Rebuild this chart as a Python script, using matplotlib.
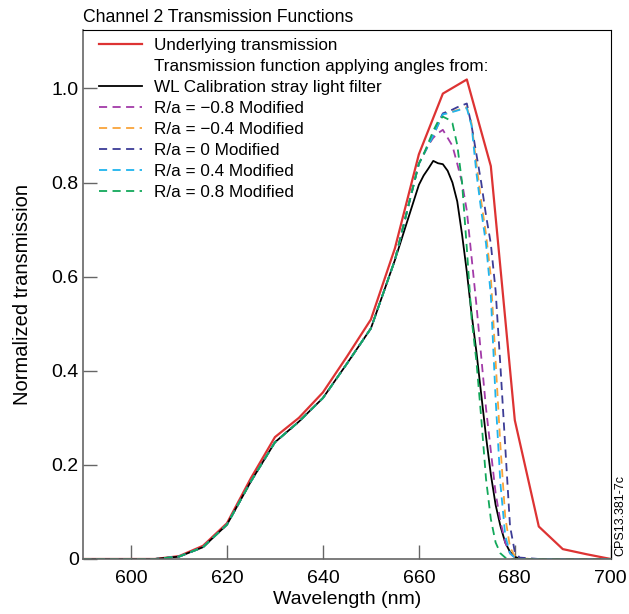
import matplotlib.pyplot as plt

plt.rcParams['font.family'] = ['Liberation Sans', 'DejaVu Sans']

# underlying transmission, 5 nm steps
wl_red = [590, 595, 600, 605, 610, 615, 620, 625, 630, 635, 640, 645, 650, 655,
          660, 665, 670, 675, 680, 685, 690, 695, 700]
t_red = [0, 0, 0, 0, 0.006, 0.028, 0.076, 0.172, 0.259, 0.300, 0.354, 0.430, 0.509, 0.660,
         0.860, 0.989, 1.019, 0.835, 0.295, 0.069, 0.021, 0.010, 0]

# shared rising part of the filtered curves
wl_rise = [590, 600, 605, 610, 615, 620, 625, 630, 635, 640, 645, 650, 655]
t_rise = [0, 0, 0, 0.005, 0.025, 0.073, 0.165, 0.248, 0.292, 0.342, 0.415, 0.490, 0.635]

wl_top = [660, 661, 662, 663, 664, 665, 666, 667, 668, 669, 670, 671, 672, 673, 674,
          675, 676, 677, 678, 679, 680, 681, 685, 690, 700]

t_black = [0.795, 0.815, 0.830, 0.846, 0.841, 0.839, 0.825, 0.800, 0.760, 0.690, 0.610,
           0.520, 0.440, 0.350, 0.260, 0.180, 0.115, 0.070, 0.035, 0.015, 0.005, 0, 0, 0, 0]
t_m08 = [0.840, 0.860, 0.880, 0.895, 0.905, 0.912, 0.895, 0.878, 0.840, 0.800, 0.740,
         0.640, 0.540, 0.430, 0.320, 0.230, 0.140, 0.080, 0.035, 0.012, 0.003, 0, 0, 0, 0]
t_m04 = [0.840, 0.860, 0.880, 0.900, 0.922, 0.945, 0.948, 0.951, 0.954, 0.957, 0.960,
         0.925, 0.840, 0.760, 0.690, 0.600, 0.420, 0.240, 0.090, 0.025, 0.006, 0.001, 0, 0, 0]
t_0 = [0.840, 0.860, 0.880, 0.900, 0.925, 0.947, 0.951, 0.955, 0.960, 0.964, 0.968,
       0.920, 0.860, 0.800, 0.730, 0.670, 0.570, 0.410, 0.240, 0.070, 0.015, 0.003, 0, 0, 0]
t_p04 = [0.840, 0.860, 0.880, 0.900, 0.922, 0.945, 0.947, 0.950, 0.953, 0.956, 0.958,
         0.920, 0.820, 0.740, 0.670, 0.560, 0.340, 0.160, 0.050, 0.012, 0.003, 0, 0, 0, 0]
t_p08 = [0.840, 0.860, 0.885, 0.910, 0.930, 0.940, 0.935, 0.926, 0.880, 0.800, 0.660,
         0.510, 0.420, 0.300, 0.170, 0.085, 0.035, 0.012, 0.003, 0, 0, 0, 0, 0, 0]

dashed = [
    ('R/a = \u22120.8 Modified', t_m08, '#a23aa8'),
    ('R/a = \u22120.4 Modified', t_m04, '#f9a43a'),
    ('R/a = 0 Modified', t_0, '#3c3c96'),
    ('R/a = 0.4 Modified', t_p04, '#1fb4ee'),
    ('R/a = 0.8 Modified', t_p08, '#12a85a'),
]

fig = plt.figure(figsize=(6.29, 6.14), dpi=100)
ax = fig.add_axes([0.132, 0.0896, 0.839, 0.8614])

ax.plot(wl_red, t_red, color='#dd3333', lw=1.6, label='Underlying transmission')
ax.plot([], [], color='none', label='Transmission function applying angles from:')
ax.plot(wl_rise + wl_top, t_rise + t_black, color='black', lw=1.3,
        label='WL Calibration stray light filter')
for lab, vals, col in dashed:
    ax.plot(wl_rise + wl_top, t_rise + vals, color=col, lw=1.3, ls=(0, (4.5, 3)), label=lab)

ax.set_xlim(590, 700)
ax.set_ylim(0, 1.124)
ax.set_xticks([600, 620, 640, 660, 680, 700])
ax.set_yticks([0, 0.2, 0.4, 0.6, 0.8, 1.0])
ax.set_yticklabels(['0', '0.2', '0.4', '0.6', '0.8', '1.0'])
ax.tick_params(direction='in', length=10, width=1, color='#666666', labelsize=14)
ax.tick_params(axis='x', pad=8)
ax.tick_params(axis='y', pad=3)
for side in ['left', 'bottom']:
    ax.spines[side].set_color('#666666')
    ax.spines[side].set_linewidth(1.2)

ax.set_xlabel('Wavelength (nm)', fontsize=14, labelpad=3)
ax.set_ylabel('Normalized transmission', fontsize=14.5, labelpad=14)
ax.set_title('Channel 2 Transmission Functions', loc='left', fontsize=12.7, pad=6)

ax.legend(loc='upper left', bbox_to_anchor=(0.031, 0.985), frameon=False, fontsize=12.3,
          borderpad=0, borderaxespad=0, labelspacing=0.35, handlelength=2.5,
          handletextpad=0.7)

fig.text(0.996, 0.095, 'CPS13.381-7c', rotation=90, fontsize=9, ha='right', va='bottom')

fig.savefig('out.png', dpi=100)
